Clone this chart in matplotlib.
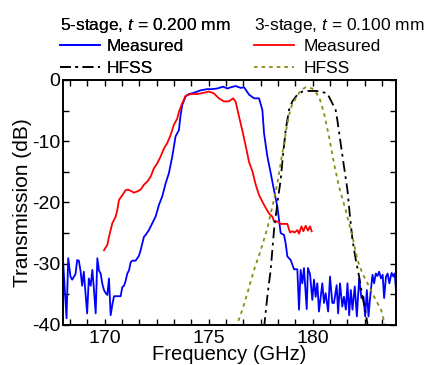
import numpy as np
import matplotlib
matplotlib.use("Agg")
import matplotlib.pyplot as plt
from matplotlib.ticker import MultipleLocator

plt.rcParams['font.family'] = ['Liberation Sans', 'DejaVu Sans']
plt.rcParams['mathtext.fontset'] = 'custom'
plt.rcParams['mathtext.it'] = 'Liberation Sans:italic'
plt.rcParams['mathtext.rm'] = 'Liberation Sans'
plt.rcParams['axes.unicode_minus'] = False

# 5-stage measured (blue)
f5_meas = [168.01, 168.17, 168.25, 168.36, 168.44, 168.6, 168.68, 168.76, 168.84, 168.92,
           169.0, 169.08, 169.16, 169.24, 169.33, 169.41, 169.49, 169.57, 169.65, 169.73,
           169.81, 169.89, 169.97, 170.05, 170.13, 170.21, 170.29, 170.37, 170.45, 170.77,
           170.85, 170.93, 171.01, 171.09, 171.17, 171.25, 171.33, 171.49, 171.65, 171.73,
           171.89, 171.97, 172.13, 172.29, 172.45, 172.61, 172.77, 172.93, 173.09, 173.25,
           173.41, 173.57, 173.65, 173.73, 173.89, 174.05, 174.29, 174.61, 174.93, 175.17,
           175.41, 175.69, 175.9, 176.06, 176.3, 176.54, 176.7, 176.94, 177.18, 177.42,
           177.58, 177.66, 177.82, 177.98, 178.14, 178.30, 178.38, 178.46, 178.62, 178.70,
           178.78, 178.94, 179.10, 179.26, 179.34, 179.42, 179.50, 179.58, 179.71, 179.77,
           179.87, 179.98, 180.06, 180.14, 180.22, 180.30, 180.46, 180.54, 180.62, 180.74,
           180.83, 180.94, 181.02, 181.15, 181.22, 181.31, 181.42, 181.50, 181.59, 181.67,
           181.75, 181.83, 181.91, 182.02, 182.12, 182.23, 182.34, 182.44, 182.52, 182.60,
           182.68, 182.76, 182.87, 182.95, 183.03, 183.11, 183.19, 183.28, 183.36, 183.43,
           183.52, 183.60, 183.68, 183.79, 183.88, 183.94, 184.02]
t5_meas = [-29.9, -38.9, -29.1, -32.1, -32.6, -31.7, -29.4, -29.5, -31.1, -33.6,
           -31.3, -34.8, -38.1, -32.4, -33.6, -31.0, -34.3, -38.1, -29.1, -31.1,
           -31.6, -33.3, -34.3, -34.8, -35.1, -32.4, -38.4, -36.7, -35.3, -35.3,
           -33.8, -33.6, -32.8, -31.6, -31.1, -29.8, -29.5, -29.5, -28.7, -27.8,
           -25.6, -25.3, -24.5, -23.4, -22.3, -20.4, -19.0, -16.9, -15.2, -12.5,
           -9.2, -8.2, -5.7, -4.1, -2.7, -2.3, -2.1, -1.7, -1.5, -1.5,
           -1.4, -1.1, -1.4, -1.2, -1.0, -1.3, -1.2, -2.4, -3.0, -3.0,
           -4.9, -8.7, -12.5, -15.2, -18.0, -20.7, -22.9, -25.0, -25.3, -26.7,
           -28.8, -29.4, -30.9, -30.9, -37.5, -31.0, -33.2, -30.7, -37.4, -30.7,
           -31.7, -35.9, -32.6, -35.4, -33.2, -37.8, -33.2, -36.4, -34.8, -37.8,
           -32.1, -36.4, -36.4, -33.5, -38.1, -33.2, -37.0, -35.4, -37.5, -33.2,
           -38.4, -34.3, -37.5, -33.7, -38.6, -32.4, -35.6, -35.4, -38.6, -34.3,
           -38.6, -35.4, -31.8, -33.2, -31.6, -32.0, -31.3, -32.4, -31.8, -35.6,
           -32.1, -31.6, -33.2, -31.5, -32.1, -31.6, -35.1]

# 3-stage measured (red)
f3_meas = [169.97, 170.13, 170.21, 170.29, 170.37, 170.53, 170.61, 170.69, 170.85, 171.01,
           171.12, 171.25, 171.41, 171.57, 171.73, 171.89, 172.05, 172.21, 172.37, 172.53,
           172.69, 172.85, 173.01, 173.17, 173.33, 173.49, 173.57, 173.73, 173.89, 174.13,
           174.45, 174.77, 175.01, 175.25, 175.49, 175.73, 175.97, 176.18, 176.30, 176.46,
           176.62, 176.78, 176.94, 177.10, 177.26, 177.42, 177.66, 177.90, 178.06, 178.14,
           178.30, 178.46, 178.62, 178.78, 178.91, 179.02, 179.13, 179.26, 179.34, 179.46,
           179.55, 179.66, 179.77, 179.87, 179.95]
t3_meas = [-27.8, -26.9, -25.6, -24.5, -23.4, -22.3, -21.2, -19.6, -18.8, -18.0,
           -17.9, -18.1, -18.4, -18.2, -17.9, -17.1, -16.6, -15.8, -14.4, -13.6,
           -12.5, -11.2, -10.3, -9.0, -7.3, -6.3, -5.2, -3.8, -2.6, -2.3,
           -2.3, -2.1, -1.9, -2.2, -3.0, -3.5, -3.5, -3.0, -3.6, -6.0,
           -8.3, -10.8, -13.4, -14.9, -17.1, -18.8, -20.4, -21.8, -22.3, -23.1,
           -23.1, -23.5, -23.5, -23.5, -24.9, -24.7, -24.9, -24.5, -25.1, -23.9,
           -24.7, -23.8, -24.6, -23.9, -24.7]

# 5-stage HFSS (black dash-dot)
f5_hfss = [177.66, 177.82, 177.98, 178.14, 178.30, 178.46, 178.58, 178.70, 178.86, 179.02,
           179.26, 179.50, 179.82, 180.14, 180.38, 180.70, 180.94, 181.10, 181.18, 181.34,
           181.50, 181.67, 181.79, 181.91, 182.07, 182.23, 182.39, 182.55, 182.66]
t5_hfss = [-40.5, -35.3, -31.0, -24.5, -20.1, -16.3, -12.0, -8.2, -4.9, -3.5,
           -2.4, -1.9, -1.8, -1.8, -1.9, -2.2, -3.8, -4.9, -6.5, -10.3,
           -14.1, -18.0, -22.3, -26.1, -29.4, -32.1, -35.4, -38.1, -40.5]

# 3-stage HFSS (olive dotted)
f3_hfss = [176.30, 176.62, 176.86, 177.18, 177.50, 177.82, 178.06, 178.30, 178.46, 178.62,
           178.78, 178.94, 179.18, 179.42, 179.66, 179.98, 180.30, 180.54, 180.78, 181.02,
           181.26, 181.58, 181.91, 182.15, 182.39, 182.71, 182.95, 183.28, 183.52]
t3_hfss = [-40.5, -37.5, -34.8, -31.0, -27.8, -24.2, -20.7, -16.9, -13.6, -10.3,
           -7.1, -4.6, -3.0, -1.7, -1.2, -1.4, -2.7, -5.4, -9.2, -13.6,
           -17.4, -21.2, -25.6, -29.4, -31.6, -33.7, -35.4, -37.5, -40.5]

fig = plt.figure(figsize=(4.33, 3.65), dpi=100)
ax = fig.add_axes([0.1455, 0.1096, 0.769, 0.6714])

h1, = ax.plot(f5_meas, t5_meas, color='#0000ff', lw=1.3, label='Measured')
h3, = ax.plot(f3_meas, t3_meas, color='#ff0000', lw=1.3, label='Measured')
h2, = ax.plot(f5_hfss, t5_hfss, color='black', lw=1.3, ls=(0, (6, 2.5, 1.5, 2.5)), label='HFSS')
h4, = ax.plot(f3_hfss, t3_hfss, color='#8c8c14', lw=1.3, ls=(0, (2, 2.2)), label='HFSS')

ax.set_xlim(168, 184)
ax.set_ylim(-40, 0)
ax.set_xticks([170, 175, 180])
ax.xaxis.set_minor_locator(MultipleLocator(5 / 6))
ax.set_yticks([0, -10, -20, -30, -40])
ax.yaxis.set_minor_locator(MultipleLocator(5))
ax.tick_params(which='both', direction='in', top=True, right=True, length=4, width=1,
               labelsize=14, pad=2)
ax.tick_params(axis='x', pad=3.5)
for s in ax.spines.values():
    s.set_linewidth(1.4)

ax.set_xlabel('Frequency (GHz)', fontsize=14.5, labelpad=-1)
ax.set_ylabel('Transmission (dB)', fontsize=15, labelpad=0)

leg_kw = dict(loc='upper left', frameon=False, fontsize=12.5, title_fontsize=12.5,
              alignment='left', handlelength=2.3, labelspacing=0.38,
              borderpad=0, borderaxespad=0)
leg1 = fig.legend(handles=[h1, h2], title='5-stage, $t$ = 0.200 mm',
                  bbox_to_anchor=(0.139, 0.957), handletextpad=0.4, **leg_kw)
leg2 = fig.legend(handles=[h3, h4], title='3-stage, $t$ = 0.100 mm',
                  bbox_to_anchor=(0.587, 0.957), handletextpad=0.55, **leg_kw)
for leg in (leg1, leg2):
    leg._legend_box.sep = 3
fig.add_artist(leg1)

fig.savefig('out.png', dpi=100)
